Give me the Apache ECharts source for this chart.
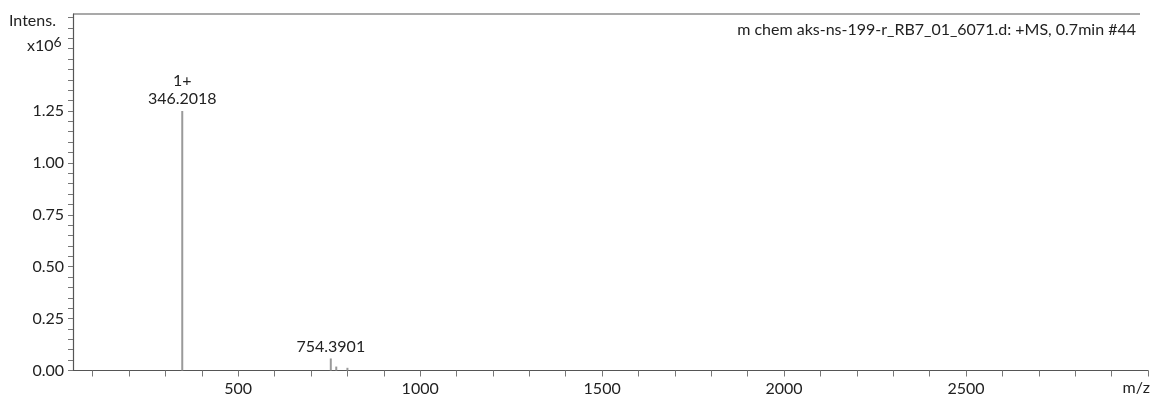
<!DOCTYPE html>
<html>
<head>
<meta charset="utf-8">
<script src="https://cdn.jsdelivr.net/npm/echarts@6/dist/echarts.min.js"></script>
<style>
  html, body { margin: 0; padding: 0; background: #fff; }
  #chart { width: 1151px; height: 399px; }
</style>
</head>
<body>
<div id="chart"></div>
<script>
// Mass spectrum peaks: m/z and intensity (counts)
const peakMz = [346.2018, 754.3901, 769.4, 800.1];
const peakIntensity = [1250000, 58000, 19000, 13000];
const peakLabels = ['1+\n346.2018', '754.3901', '', ''];

// Axis ticks
const xMinorTicks = [100, 200, 300, 400, 500, 600, 700, 800, 900, 1000, 1100, 1200, 1300, 1400, 1500,
  1600, 1700, 1800, 1900, 2000, 2100, 2200, 2300, 2400, 2500, 2600, 2700, 2800, 2900, 3000];
const xTickLabels = [500, 1000, 1500, 2000, 2500];
const yMinorTicks = [0, 50000, 100000, 150000, 200000, 250000, 300000, 350000, 400000, 450000, 500000,
  550000, 600000, 650000, 700000, 750000, 800000, 850000, 900000, 950000, 1000000, 1050000, 1100000,
  1150000, 1200000, 1250000, 1300000, 1350000, 1400000, 1450000, 1500000, 1550000, 1600000, 1650000, 1700000];
const yTickLabels = [0, 250000, 500000, 750000, 1000000, 1250000];

const titleText = 'm chem aks-ns-199-r_RB7_01_6071.d: +MS, 0.7min #44';
const FONT = 'Lato';

const chart = echarts.init(document.getElementById('chart'), null, { renderer: 'canvas' });

const gridLeft = 73, gridTop = 14, gridRight = 3, gridBottom = 28.5;

chart.setOption({
  animation: false,
  backgroundColor: '#ffffff',
  textStyle: { fontFamily: FONT },
  title: {
    text: titleText,
    right: 10,
    top: 17,
    textStyle: { fontFamily: FONT, fontSize: 16, fontWeight: 'normal', color: '#222' }
  },
  grid: { left: gridLeft, top: gridTop, right: gridRight, bottom: gridBottom },
  xAxis: {
    type: 'value',
    min: 46,
    max: 3000,
    splitLine: { show: false },
    axisLine: { show: true, lineStyle: { color: '#555', width: 1.2 } },
    axisTick: {
      show: true, length: 6, customValues: xMinorTicks,
      lineStyle: { color: '#777', width: 1 }
    },
    axisLabel: {
      customValues: xTickLabels,
      formatter: v => String(v),
      fontFamily: FONT, fontSize: 16, color: '#222', margin: 10
    }
  },
  yAxis: {
    type: 'value',
    min: 0,
    max: 1717000,
    splitLine: { show: false },
    axisLine: { show: true, lineStyle: { color: '#555', width: 1.2 } },
    axisTick: {
      show: true, length: 5, customValues: yMinorTicks,
      lineStyle: { color: '#777', width: 1 }
    },
    axisLabel: {
      customValues: yTickLabels,
      formatter: v => (v / 1e6).toFixed(2),
      fontFamily: FONT, fontSize: 16, color: '#222', margin: 9
    }
  },
  graphic: [
    {
      type: 'line',
      shape: { x1: gridLeft, y1: gridTop, x2: 1140, y2: gridTop },
      style: { stroke: '#555', lineWidth: 1.2 }
    },
    {
      type: 'text', left: 9, top: 13,
      style: { text: 'Intens.', font: '16px ' + FONT, fill: '#222' }
    },
    {
      type: 'text', left: 27, top: 35,
      style: {
        text: 'x10{sup|6}', font: '16px ' + FONT, fill: '#222',
        rich: { sup: { fontSize: 14, fontFamily: FONT, verticalAlign: 'top', padding: [0, 0, 8, 0] } }
      }
    },
    {
      type: 'text', right: 1, top: 380,
      style: { text: 'm/z', font: '16px ' + FONT, fill: '#222' }
    }
  ],
  series: [{
    type: 'bar',
    barWidth: 2,
    itemStyle: { color: '#9a9a9a' },
    data: peakMz.map((mz, i) => ({
      value: [mz, peakIntensity[i]],
      label: {
        show: peakLabels[i] !== '',
        position: 'top',
        distance: 3,
        formatter: peakLabels[i],
        fontFamily: FONT, fontSize: 16, lineHeight: 18, color: '#222', align: 'center'
      }
    }))
  }]
});
</script>
</body>
</html>
